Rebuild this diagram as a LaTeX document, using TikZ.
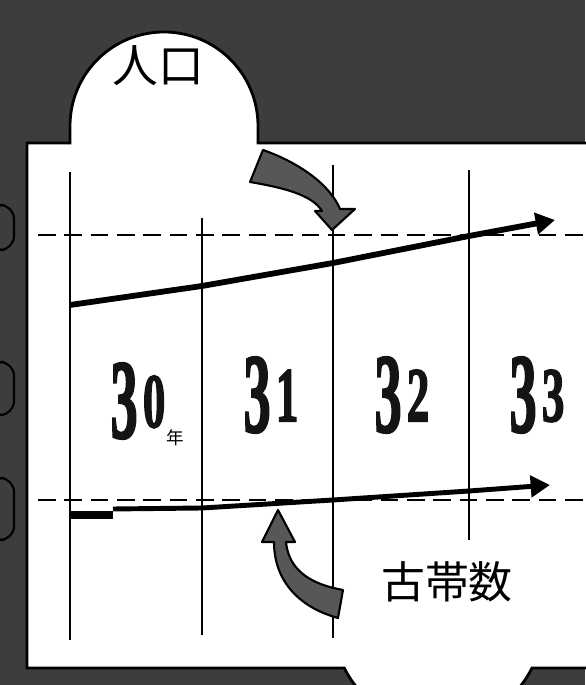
\documentclass[tikz,border=0pt]{standalone}
\usepackage{fontspec}
\newfontfamily\cjk{Noto Sans CJK JP}
\newfontfamily\numfont[FakeBold=2.5]{Liberation Serif}
\usetikzlibrary{arrows.meta,positioning}

\tikzset{
  gridline/.style={line width=1pt},
  guide/.style={line width=1pt, dash pattern=on 10pt off 5pt},
  trend/.style={line width=3.3pt, line join=round, -{Triangle[length=11pt,width=12pt]}},
  bigarrow/.style={fill=black!66, draw=black, line width=1.2pt, line join=round},
  yearlabel/.style={inner sep=0pt, text=black!92, font=\numfont\bfseries},
}
\newcommand{\yearmark}[1]{\scalebox{0.48}[1]{\fontsize{64}{64}\selectfont 3}\hspace{3pt}\raisebox{6pt}{\scalebox{0.58}[1]{\fontsize{44}{44}\selectfont #1}}}

\begin{document}
\begin{tikzpicture}[x=0.02cm,y=0.02cm]
  \useasboundingbox (0,0) rectangle (585,685);
  \fill[black!76] (0,0) rectangle (585,685);
  % tabs of the next panel
  \foreach \ya/\yb in {435/480, 270/323, 145/207}
    \draw[line width=1.2pt, rounded corners=8pt] (-10,\ya) rectangle (14,\yb);
  % panel
  \draw[fill=white, line width=1.6pt] (27,17) -- (27,542) -- (70,542) -- (70,559)
    arc[start angle=180, end angle=0, radius=94] -- (258,542) -- (590,542)
    -- (590,17) -- (532,17) arc[start angle=-26.6, end angle=-153.4, radius=105] -- cycle;

  % year columns
  \foreach \x/\yt/\yb [count=\i] in {70/513/45, 202/467/50, 333/520/47, 469/515/145}
    \draw[gridline] (\x,\yt) coordinate (top\i) -- (\x,\yb) coordinate (bot\i);

  % guide lines
  \coordinate (gp-l) at (38,450);
  \coordinate (gp-r) at (590,450);
  \coordinate (gh-l) at (38,185);
  \coordinate (gh-r) at (590,185);
  \draw[guide] (gp-l) -- (gp-r);
  \draw[guide] (gh-l) -- (gh-r);

  % population
  \coordinate (p30) at (70,380);
  \coordinate (p31) at (202,399);
  \coordinate (p32) at (333,422);
  \coordinate (p33) at (469,449);
  \coordinate (pend) at (555,465);
  \draw[trend] (p30) -- (p31) -- (p32) -- (p33) -- (pend);

  % households
  \coordinate (h30) at (70,170);
  \coordinate (hstep) at (113,170);
  \coordinate (hs) at (113,176);
  \coordinate (h31) at (202,177);
  \coordinate (h32) at (333,185);
  \coordinate (h33) at (469,194);
  \coordinate (hend) at (550,200);
  \draw[line width=4.2pt] (h30) -- (hstep);
  \draw[trend, line width=2.8pt] (hs) -- (h31) -- (h32) -- (h33) -- (hend);

  % pointers
  \draw[bigarrow] (250,503) -- (263,535) .. controls (300,522) and (330,500) .. (340,476)
    -- (355,476) -- (332,455) -- (315,474) -- (322,474)
    .. controls (312,490) and (285,497) .. (250,503) -- cycle;
  \draw[bigarrow] (278,175) -- (295,143) -- (286,143)
    .. controls (289,112) and (315,100) .. (343,95) -- (338,67)
    .. controls (298,78) and (274,105) .. (274,143) -- (262,143) -- cycle;

  % labels
  \node[font=\cjk\fontsize{26pt}{26pt}\selectfont] (jinkou) at (158,619) {人口};
  \node[font=\cjk\fontsize{25pt}{25pt}\selectfont] (setai) at (447,103) {古帯数};
  \node[yearlabel] (y30) at (138,284) {\yearmark{0}};
  \node[yearlabel] (y31) at (271,290) {\yearmark{1}};
  \node[yearlabel] (y32) at (402,290) {\yearmark{2}};
  \node[yearlabel] (y33) at (537,290) {\yearmark{3}};
  \node[font=\cjk\fontsize{10pt}{10pt}\selectfont, inner sep=0pt] (nen) at (175,247) {年};
\end{tikzpicture}
\end{document}
